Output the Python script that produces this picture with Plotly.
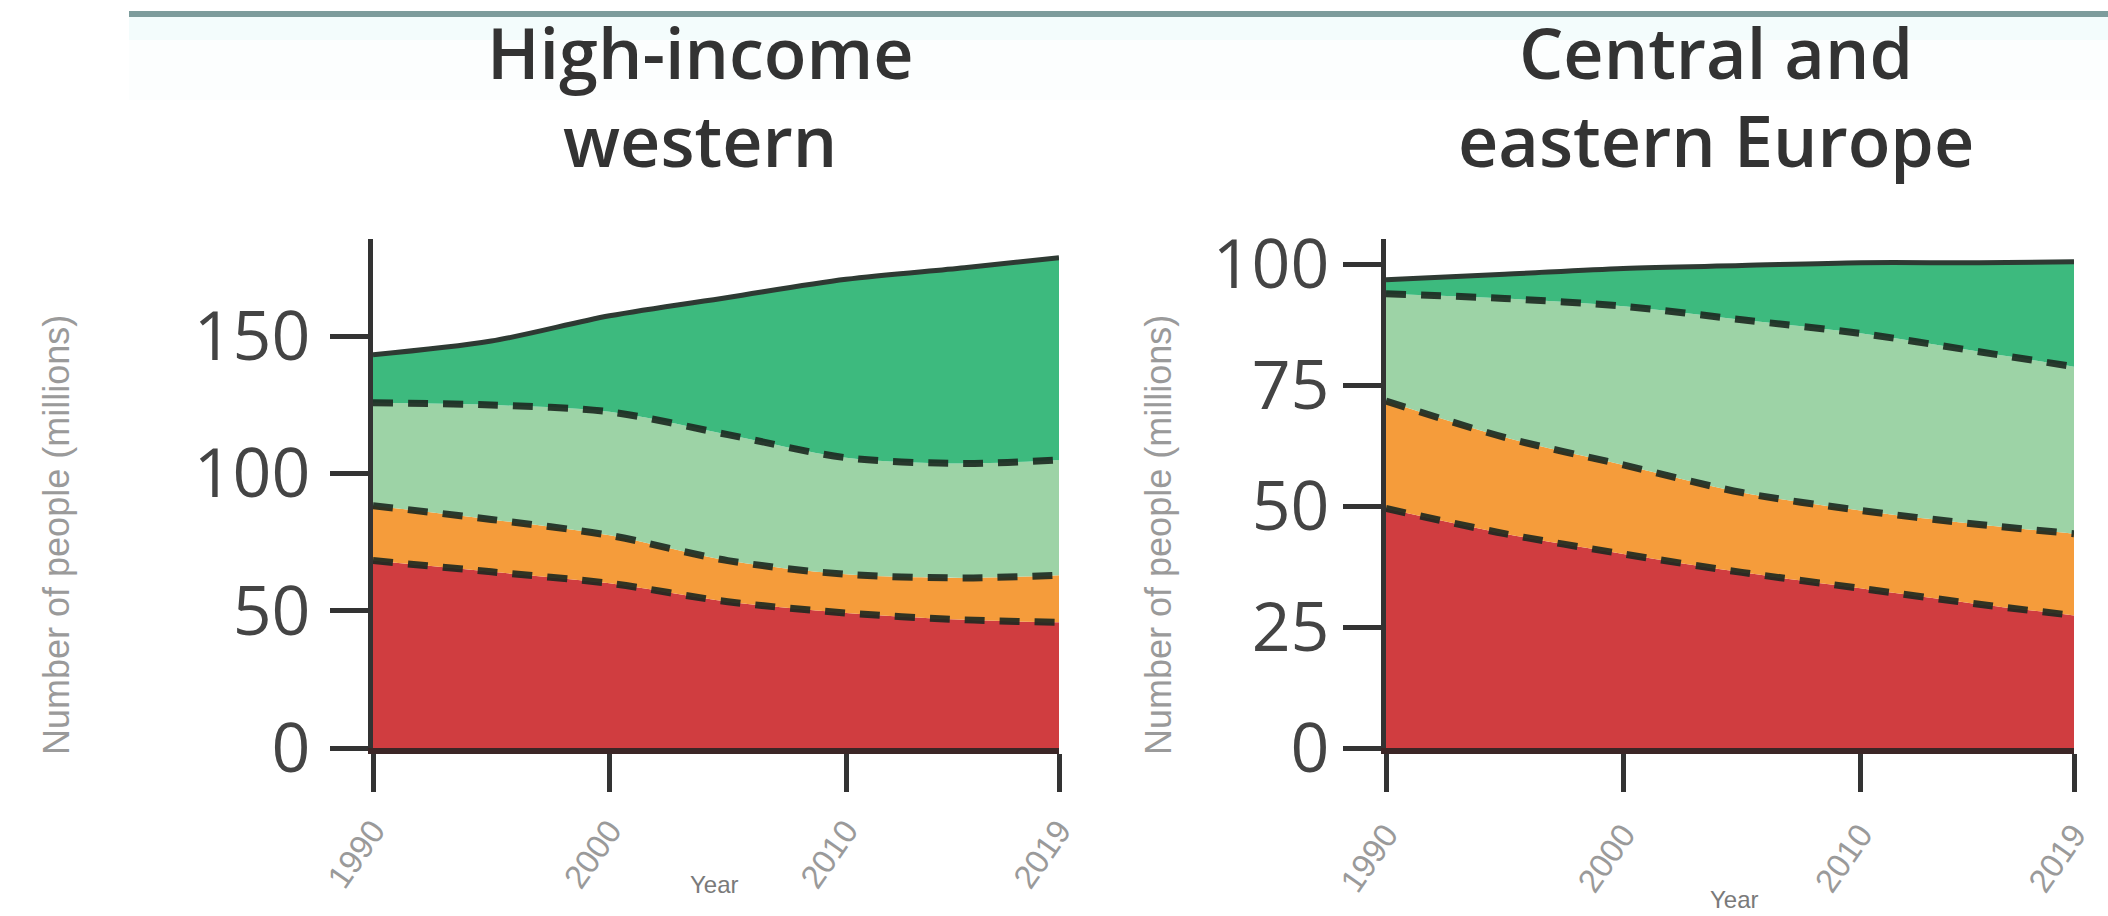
import plotly.graph_objects as go

# Survey years shared by both regions
years = [1990, 1995, 2000, 2005, 2010, 2015, 2019]

# Layer sizes (millions of people), bottom to top
hiw_red = [68.3, 64.2, 60.0, 53.3, 49.2, 46.7, 45.8]
hiw_orange = [20.0, 19.1, 17.5, 15.0, 14.1, 15.3, 17.2]
hiw_lightgreen = [37.5, 41.7, 45.0, 45.9, 42.5, 41.7, 42.0]
hiw_darkgreen = [17.5, 23.3, 35.0, 50.0, 65.0, 71.3, 73.7]

cee_red = [49.5, 44.3, 40.1, 36.3, 33.0, 29.7, 27.4]
cee_orange = [22.2, 19.9, 18.4, 16.5, 16.1, 16.5, 16.9]
cee_lightgreen = [22.2, 28.7, 32.8, 35.7, 36.6, 35.7, 34.5]
cee_darkgreen = [2.9, 5.0, 7.8, 11.2, 14.6, 18.4, 21.7]

panel_titles = [["High-income", "western"], ["Central and", "eastern Europe"]]
x_ticks = [1990, 2000, 2010, 2019]
hiw_y_ticks = [0, 50, 100, 150]
cee_y_ticks = [0, 25, 50, 75, 100]

W, H = 2108, 916
RED, ORANGE, LGREEN, DGREEN = "#d03d40", "#f59c3b", "#9dd3a6", "#3dba7e"
DASH_COLOR = "rgba(28,40,32,0.9)"
TOP_COLOR = "#2e3a33"


def px_x(v):
    return v / W


def px_y(v):
    return 1 - v / H


fig = go.Figure()

layers = [
    (hiw_red, hiw_orange, hiw_lightgreen, hiw_darkgreen, "x", "y", "a"),
    (cee_red, cee_orange, cee_lightgreen, cee_darkgreen, "x2", "y2", "b"),
]
for red, orange, lg, dg, xa, ya, grp in layers:
    for vals, col, dashed in [(red, RED, True), (orange, ORANGE, True),
                              (lg, LGREEN, True), (dg, DGREEN, False)]:
        fig.add_trace(go.Scatter(
            x=years, y=vals, xaxis=xa, yaxis=ya, stackgroup=grp,
            mode="lines", fillcolor=col,
            line=dict(color=DASH_COLOR if dashed else TOP_COLOR,
                      width=7 if dashed else 5,
                      dash="20px,15px" if dashed else "solid",
                      shape="spline", smoothing=0.9),
            showlegend=False, hoverinfo="skip",
        ))

axis_common = dict(showgrid=False, zeroline=False, showline=True, automargin=False,
                   ticks="outside", ticklen=38, tickwidth=5, tickcolor="#333")

tick_font_x = dict(family="Liberation Sans Narrow, Arial Narrow, sans-serif", size=33, color="#9a9a9a")
tick_font_y = dict(family="Open Sans, sans-serif", size=68, color="#444")

y_dom = [px_y(748), px_y(239)]
fig.update_layout(
    width=W, height=H,
    margin=dict(l=0, r=0, t=0, b=0, autoexpand=False),
    paper_bgcolor="white", plot_bgcolor="white",
    xaxis=dict(domain=[px_x(373), px_x(1059)], range=[1990, 2019],
               tickvals=x_ticks, tickangle=-55, tickfont=tick_font_x,
               ticklabelstandoff=6,
               linecolor="#3b2626", linewidth=6, anchor="y", **axis_common),
    yaxis=dict(domain=y_dom, range=[0, 185.5], tickvals=hiw_y_ticks,
               tickfont=tick_font_y, linecolor="#333", linewidth=5,
               ticklabelstandoff=6, anchor="x", **axis_common),
    xaxis2=dict(domain=[px_x(1386), px_x(2074)], range=[1990, 2019],
                tickvals=x_ticks, tickangle=-55, tickfont=tick_font_x,
                ticklabelstandoff=10,
                linecolor="#3b2626", linewidth=6, anchor="y2", **axis_common),
    yaxis2=dict(domain=y_dom, range=[0, 105.2], tickvals=cee_y_ticks,
                tickfont=tick_font_y, linecolor="#333", linewidth=5,
                ticklabelstandoff=0, anchor="x2", **axis_common),
)

# Header rule with a faint tint below it
fig.add_shape(type="rect", xref="paper", yref="paper", x0=px_x(129), x1=1,
              y0=px_y(100), y1=px_y(40), fillcolor="#fcfefe", line_width=0, layer="below")
fig.add_shape(type="rect", xref="paper", yref="paper", x0=px_x(129), x1=1,
              y0=px_y(40), y1=px_y(17), fillcolor="#f3fcfc", line_width=0, layer="below")
fig.add_shape(type="rect", xref="paper", yref="paper", x0=px_x(129), x1=1,
              y0=px_y(17), y1=px_y(11), fillcolor="#7d9c9c", line_width=0)

title_font = dict(family="Open Sans, sans-serif", size=70, color="#333", weight=600)
for (l1, l2), cx in zip(panel_titles, [700, 1716]):
    fig.add_annotation(text=l1, x=px_x(cx), y=px_y(52), xref="paper", yref="paper",
                       xanchor="center", yanchor="middle", showarrow=False, font=title_font)
    fig.add_annotation(text=l2, x=px_x(cx), y=px_y(140), xref="paper", yref="paper",
                       xanchor="center", yanchor="middle", showarrow=False, font=title_font)

ytitle_font = dict(family="Liberation Sans Narrow, Arial Narrow, sans-serif", size=36, color="#9a9a9a")
for cx in [56, 1158]:
    fig.add_annotation(text="Number of people (millions)", x=px_x(cx), y=px_y(535),
                       xref="paper", yref="paper", textangle=-90, showarrow=False,
                       xanchor="center", yanchor="middle", font=ytitle_font)

xtitle_font = dict(family="Liberation Sans Narrow, Arial Narrow, sans-serif", size=24, color="#7a7a7a")
for cx, cy in [(714, 884), (1734, 899)]:
    fig.add_annotation(text="Year", x=px_x(cx), y=px_y(cy), xref="paper", yref="paper",
                       showarrow=False, xanchor="center", yanchor="middle", font=xtitle_font)

fig.write_html("out.html")
